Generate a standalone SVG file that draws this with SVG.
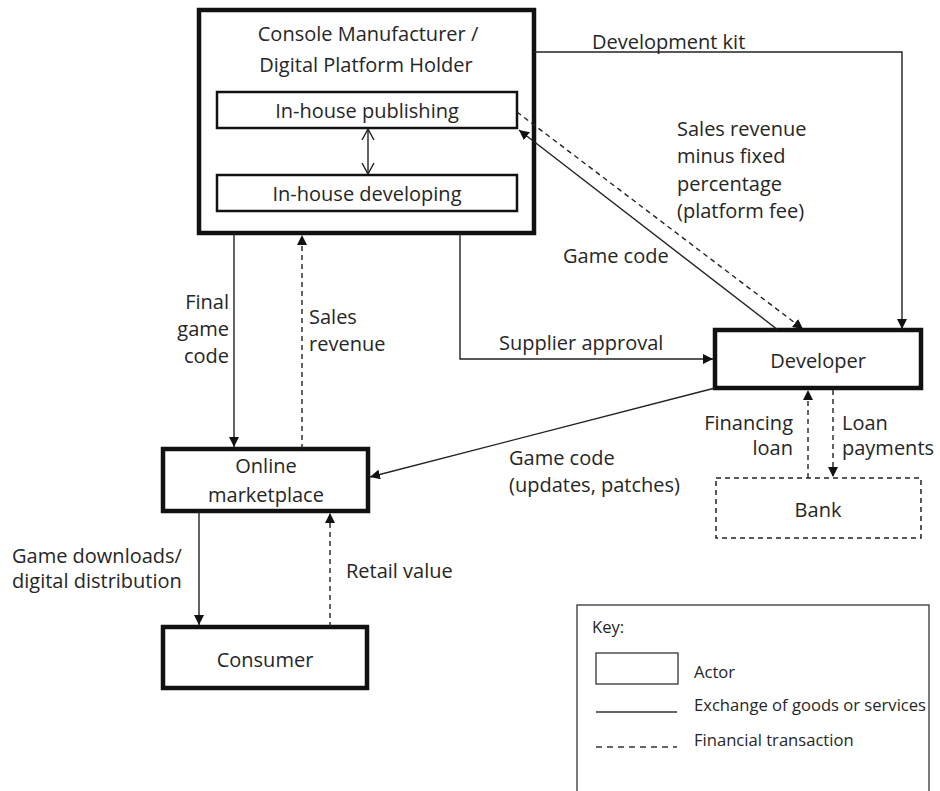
<svg xmlns="http://www.w3.org/2000/svg" width="940" height="791" viewBox="0 0 940 791">
<style>
text{font-family:"Open Sans","Liberation Sans",sans-serif;font-size:20px;fill:#262626}
.key text{font-size:16.6px}
.thick{fill:#fff;stroke:#111;stroke-width:4.5}
.inner{fill:#fff;stroke:#111;stroke-width:2.5}
.c{fill:none;stroke:#222;stroke-width:1.4}
.d{fill:none;stroke:#222;stroke-width:1.4;stroke-dasharray:5 4}
.m{text-anchor:middle}
.e{text-anchor:end}
</style>
<defs>
<marker id="ah" viewBox="0 0 10 10" refX="10" refY="5" markerWidth="10" markerHeight="10" markerUnits="userSpaceOnUse" orient="auto">
<path d="M0,0 L10,5 L0,10 z" fill="#111"/>
</marker>
<marker id="oh" viewBox="0 0 12 14" refX="11" refY="7" markerWidth="12" markerHeight="14" markerUnits="userSpaceOnUse" orient="auto-start-reverse">
<path d="M0,1 L11,7 L0,13" fill="none" stroke="#222" stroke-width="1.4"/>
</marker>
</defs>
<rect width="940" height="791" fill="#fff"/>

<g id="platform">
<rect class="thick" x="199" y="10" width="335" height="223"/>
<text class="m" x="368" y="41">Console Manufacturer  /</text>
<text class="m" x="366" y="72">Digital Platform Holder</text>
</g>
<g id="publishing">
<rect class="inner" x="217" y="92" width="300" height="36"/>
<text class="m" x="367" y="118">In-house publishing</text>
</g>
<g id="developing">
<rect class="inner" x="217" y="175" width="300" height="36"/>
<text class="m" x="367" y="201">In-house developing</text>
</g>
<g id="developer">
<rect class="thick" x="715" y="330" width="206" height="58"/>
<text class="m" x="818" y="368">Developer</text>
</g>
<g id="marketplace">
<rect class="thick" x="163" y="449" width="205" height="62"/>
<text class="m" x="266" y="473">Online</text>
<text class="m" x="266" y="502">marketplace</text>
</g>
<g id="consumer">
<rect class="thick" x="163" y="627" width="204" height="61"/>
<text class="m" x="265" y="667">Consumer</text>
</g>
<g id="bank">
<rect x="716" y="478" width="205" height="60" fill="#fff" stroke="#222" stroke-width="1.5" stroke-dasharray="5 4"/>
<text class="m" x="818" y="517">Bank</text>
</g>

<g id="connectors">
<line class="c" x1="368" y1="129" x2="368" y2="174" marker-start="url(#oh)" marker-end="url(#oh)"/>
<path class="c" d="M534,52 H902 V329" marker-end="url(#ah)"/>
<line class="c" x1="778" y1="330" x2="519" y2="130" marker-end="url(#ah)"/>
<line class="d" x1="517" y1="112" x2="803" y2="329" marker-end="url(#ah)"/>
<path class="c" d="M460,233 V359 H713" marker-end="url(#ah)"/>
<line class="c" x1="234" y1="233" x2="234" y2="447" marker-end="url(#ah)"/>
<line class="d" x1="302" y1="449" x2="302" y2="235" marker-end="url(#ah)"/>
<line class="c" x1="715" y1="388" x2="370" y2="477" marker-end="url(#ah)"/>
<line class="d" x1="808" y1="478" x2="808" y2="390" marker-end="url(#ah)"/>
<line class="d" x1="833" y1="390" x2="833" y2="477" marker-end="url(#ah)"/>
<line class="c" x1="199" y1="511" x2="199" y2="625" marker-end="url(#ah)"/>
<line class="d" x1="330" y1="627" x2="330" y2="513" marker-end="url(#ah)"/>
</g>

<g id="labels">
<text x="592" y="49">Development kit</text>
<text x="677" y="136">Sales revenue</text>
<text x="677" y="163">minus fixed</text>
<text x="677" y="191">percentage</text>
<text x="677" y="218">(platform fee)</text>
<text x="563" y="263">Game code</text>
<text class="e" x="229" y="309">Final</text>
<text class="e" x="229" y="336">game</text>
<text class="e" x="229" y="363">code</text>
<text x="309" y="324">Sales</text>
<text x="309" y="351">revenue</text>
<text x="499" y="350">Supplier approval</text>
<text x="509" y="465">Game code</text>
<text x="509" y="492">(updates, patches)</text>
<text class="e" x="793" y="430">Financing</text>
<text class="e" x="793" y="455">loan</text>
<text x="842" y="430">Loan</text>
<text x="842" y="455">payments</text>
<text x="12" y="563">Game downloads/</text>
<text x="12" y="588">digital distribution</text>
<text x="346" y="578">Retail value</text>
</g>

<g id="key" class="key">
<rect x="577" y="605" width="352" height="200" fill="none" stroke="#333" stroke-width="1.3"/>
<text x="592" y="633">Key:</text>
<rect x="596" y="653" width="82" height="31" fill="none" stroke="#333" stroke-width="1.3"/>
<text x="694" y="678">Actor</text>
<line x1="596" y1="712" x2="677" y2="712" stroke="#333" stroke-width="1.3"/>
<text x="694" y="711">Exchange of goods or services</text>
<line x1="596" y1="747" x2="677" y2="747" stroke="#333" stroke-width="1.3" stroke-dasharray="6 5"/>
<text x="694" y="746">Financial transaction</text>
</g>
</svg>
